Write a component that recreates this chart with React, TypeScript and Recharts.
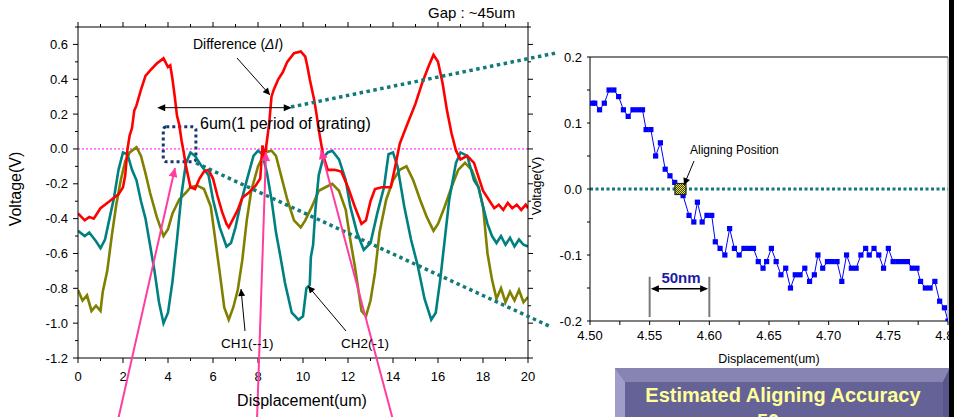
import React from 'react';
import {
  LineChart,
  Line,
  XAxis,
  YAxis,
  ReferenceLine,
  ReferenceArea,
  ReferenceDot,
} from 'recharts';

const FONT = '"Liberation Sans", Arial, Helvetica, sans-serif';

// ─────────────────────────────────────────────
// DATA – left panel (0..20 um scan)
// ─────────────────────────────────────────────

const diffX = [
  0, 0.3, 0.5, 0.7, 1.0, 1.3, 1.5, 1.8, 2.0, 2.1, 2.2, 2.3, 2.4, 2.5, 2.6, 2.8, 3.0, 3.2, 3.5, 3.8,
  4.0, 4.1, 4.2, 4.3, 4.4, 4.5, 4.6, 4.7, 4.8, 5.0, 5.2, 5.4, 5.6, 5.8, 6.0, 6.2, 6.4, 6.6, 6.7, 6.9,
  7.1, 7.3, 7.6, 7.9, 8.1, 8.2, 8.3, 8.4, 8.5, 8.6, 8.7, 8.9, 9.1, 9.3, 9.6, 9.9, 10.1, 10.2, 10.3, 10.5,
  10.6, 10.7, 10.9, 11.1, 11.4, 11.7, 12.0, 12.3, 12.6, 12.8, 13.0, 13.2, 13.5, 13.9, 14.1, 14.3, 14.6, 15.0, 15.3, 15.6,
  15.8, 16.0, 16.2, 16.4, 16.6, 16.8, 17.0, 17.3, 17.6, 17.8, 18.0, 18.3, 18.5, 18.7, 18.9, 19.1, 19.3, 19.5, 19.7, 19.9,
  20.0,
];
const diffV = [
  -0.37, -0.41, -0.39, -0.40, -0.34, -0.31, -0.29, -0.26, -0.22, -0.15, 0.0, 0.08, 0.12, 0.22, 0.25, 0.34, 0.42, 0.45, 0.49, 0.52,
  0.47, 0.48, 0.40, 0.30, 0.19, 0.14, 0.05, -0.02, -0.10, -0.22, -0.23, -0.17, -0.13, -0.12, -0.17, -0.27, -0.36, -0.43, -0.45, -0.40,
  -0.35, -0.28, -0.25, -0.21, -0.17, 0.02, -0.05, 0.05, 0.15, 0.30, 0.34, 0.40, 0.44, 0.50, 0.55, 0.56, 0.53, 0.47, 0.40, 0.28,
  0.20, 0.11, -0.04, -0.12, -0.12, -0.13, -0.22, -0.33, -0.43, -0.41, -0.30, -0.23, -0.22, -0.22, -0.10, 0.03, 0.13, 0.26, 0.38, 0.48,
  0.54, 0.50, 0.38, 0.22, 0.09, -0.01, -0.06, -0.04, -0.08, -0.16, -0.24, -0.30, -0.34, -0.32, -0.35, -0.31, -0.34, -0.32, -0.35, -0.32,
  -0.34,
];

const ch2X = [
  0, 0.3, 0.5, 0.8, 1.0, 1.2, 1.4, 1.6, 1.8, 2.0, 2.2, 2.4, 2.6, 2.8, 3.0, 3.2, 3.4, 3.6, 3.8, 4.0,
  4.2, 4.4, 4.6, 4.8, 5.0, 5.2, 5.5, 5.8, 6.0, 6.3, 6.6, 6.8, 7.0, 7.2, 7.5, 7.8, 8.0, 8.2, 8.4, 8.6,
  8.8, 9.0, 9.2, 9.5, 9.8, 10.0, 10.15, 10.3, 10.35, 10.45, 10.55, 10.7, 10.9, 11.1, 11.3, 11.6, 11.9, 12.1, 12.4, 12.7,
  13.0, 13.3, 13.6, 13.8, 14.0, 14.2, 14.5, 14.8, 15.1, 15.4, 15.7, 15.9, 16.1, 16.3, 16.5, 16.8, 17.0, 17.3, 17.6, 17.8,
  18.0, 18.2, 18.4, 18.6, 18.8, 19.0, 19.2, 19.4, 19.6, 19.8, 20.0,
];
const ch2V = [
  -0.47, -0.50, -0.48, -0.53, -0.57, -0.52, -0.40, -0.28, -0.12, -0.02, -0.03, -0.12, -0.18, -0.30, -0.40, -0.55, -0.70, -0.88, -1.00, -0.94,
  -0.76, -0.52, -0.26, -0.08, -0.02, -0.04, -0.10, -0.15, -0.29, -0.45, -0.56, -0.54, -0.45, -0.33, -0.18, -0.04, -0.01, -0.03, -0.14, -0.29,
  -0.48, -0.62, -0.77, -0.94, -0.98, -0.96, -0.80, -0.78, -0.62, -0.55, -0.35, -0.15, -0.05, -0.02, -0.01, -0.06, -0.18, -0.33, -0.48, -0.58,
  -0.54, -0.37, -0.22, -0.03, -0.02, -0.10, -0.33, -0.52, -0.67, -0.86, -0.98, -0.94, -0.75, -0.52, -0.29, -0.08, -0.02, -0.04, -0.18, -0.22,
  -0.33, -0.43, -0.50, -0.54, -0.50, -0.55, -0.51, -0.56, -0.52, -0.55, -0.56,
];

const ch1X = [
  0, 0.2, 0.4, 0.6, 0.8, 1.0, 1.1, 1.3, 1.5, 1.7, 1.9, 2.1, 2.3, 2.6, 2.8, 3.0, 3.2, 3.5, 3.8, 4.0,
  4.2, 4.5, 4.8, 5.0, 5.3, 5.6, 5.9, 6.1, 6.3, 6.5, 6.7, 6.9, 7.1, 7.3, 7.5, 7.7, 8.0, 8.3, 8.6, 8.8,
  9.0, 9.3, 9.6, 9.9, 10.1, 10.4, 10.7, 11.0, 11.3, 11.6, 11.9, 12.1, 12.3, 12.6, 12.8, 13.0, 13.2, 13.4, 13.7, 14.0,
  14.3, 14.6, 14.9, 15.2, 15.5, 15.8, 16.0, 16.3, 16.6, 16.9, 17.2, 17.5, 17.8, 18.0, 18.2, 18.4, 18.6, 18.8, 19.0, 19.2,
  19.4, 19.6, 19.8, 20.0,
];
const ch1V = [
  -0.81, -0.87, -0.84, -0.93, -0.90, -0.93, -0.82, -0.70, -0.50, -0.32, -0.18, -0.07, -0.02, 0.01, -0.04, -0.14, -0.25, -0.39, -0.50, -0.46,
  -0.37, -0.29, -0.25, -0.22, -0.21, -0.23, -0.33, -0.52, -0.71, -0.91, -0.98, -0.91, -0.81, -0.64, -0.41, -0.24, -0.10, -0.02, -0.01, -0.04,
  -0.14, -0.29, -0.41, -0.45, -0.41, -0.33, -0.24, -0.22, -0.20, -0.24, -0.35, -0.52, -0.67, -0.93, -0.96, -0.87, -0.71, -0.48, -0.29, -0.18,
  -0.12, -0.10, -0.18, -0.29, -0.39, -0.47, -0.43, -0.33, -0.22, -0.12, -0.08, -0.12, -0.22, -0.33, -0.60, -0.75, -0.86, -0.80, -0.88, -0.82,
  -0.87, -0.81, -0.88, -0.85,
];

const leftXTicks = [0, 1, 2, 3, 4, 5, 6, 7, 8, 9, 10, 11, 12, 13, 14, 15, 16, 17, 18, 19, 20];
const leftYTicks = [
  -1.2, -1.1, -1.0, -0.9, -0.8, -0.7, -0.6, -0.5, -0.4, -0.3, -0.2, -0.1, 0.0, 0.1, 0.2, 0.3, 0.4, 0.5, 0.6, 0.7,
];

// ─────────────────────────────────────────────
// DATA – right panel (zoom around aligning position)
// ─────────────────────────────────────────────

const zoomX = [
  4.502, 4.504, 4.508, 4.512, 4.516, 4.520, 4.524, 4.528, 4.532, 4.536, 4.540, 4.544, 4.547, 4.551, 4.555, 4.559, 4.563, 4.567, 4.571, 4.575,
  4.578, 4.583, 4.587, 4.590, 4.594, 4.598, 4.602, 4.605, 4.609, 4.613, 4.617, 4.621, 4.625, 4.629, 4.633, 4.637, 4.641, 4.645, 4.648, 4.652,
  4.656, 4.660, 4.664, 4.668, 4.672, 4.676, 4.680, 4.684, 4.688, 4.691, 4.695, 4.699, 4.703, 4.707, 4.711, 4.715, 4.719, 4.723, 4.727, 4.731,
  4.734, 4.738, 4.742, 4.746, 4.750, 4.754, 4.758, 4.762, 4.766, 4.770, 4.774, 4.777, 4.781, 4.785, 4.789, 4.793, 4.797, 4.800,
];
const zoomV = [
  0.13, 0.13, 0.12, 0.13, 0.15, 0.15, 0.14, 0.12, 0.11, 0.12, 0.12, 0.12, 0.09, 0.09, 0.05, 0.07, 0.03, 0.02, 0.01, 0.0,
  -0.01, -0.04, -0.05, -0.02, -0.05, -0.04, -0.04, -0.08, -0.09, -0.10, -0.06, -0.09, -0.10, -0.09, -0.09, -0.09, -0.11, -0.12, -0.11, -0.09,
  -0.11, -0.13, -0.12, -0.15, -0.13, -0.13, -0.12, -0.14, -0.13, -0.10, -0.12, -0.11, -0.11, -0.11, -0.14, -0.10, -0.12, -0.12, -0.10, -0.09,
  -0.10, -0.09, -0.10, -0.12, -0.09, -0.11, -0.11, -0.11, -0.11, -0.12, -0.12, -0.14, -0.15, -0.15, -0.14, -0.17, -0.18, -0.20,
];

const rightXTicks = [
  4.5, 4.525, 4.55, 4.575, 4.6, 4.625, 4.65, 4.675, 4.7, 4.725, 4.75, 4.775, 4.8,
];
const rightYTicks = [-0.2, -0.15, -0.1, -0.05, 0.0, 0.05, 0.1, 0.15, 0.2];

const alignX = 4.5758;
const alignV = 0.0;

const toPoints = (xs: number[], vs: number[]) => xs.map((x, i) => ({ x, v: vs[i] }));

const diffPts = toPoints(diffX, diffV);
const ch1Pts = toPoints(ch1X, ch1V);
const ch2Pts = toPoints(ch2X, ch2V);
const zoomPts = toPoints(zoomX, zoomV);

// ─────────────────────────────────────────────
// TICKS
// ─────────────────────────────────────────────

const isMajorLeftY = (v: number) => Math.abs(Math.round(v * 10)) % 2 === 0;
const isMajorLeftX = (v: number) => Math.round(v) % 2 === 0;
const isMajorRightX = (v: number) => Math.round(v * 1000) % 50 === 0;
const isMajorRightY = (v: number) => Math.abs(Math.round(v * 100)) % 10 === 0;

function LeftYTick(props: any) {
  const { x, y, payload } = props;
  const v = payload.value;
  const major = isMajorLeftY(v);
  return (
    <g>
      <line x1={x - (major ? 5 : 3)} y1={y} x2={x} y2={y} stroke="#000" />
      {major && v < 0.65 && (
        <text x={x - 10} y={y + 4.5} textAnchor="end" fontSize={13} fontFamily={FONT} fill="#000">
          {v.toFixed(1)}
        </text>
      )}
    </g>
  );
}

function LeftXTick(props: any) {
  const { x, y, payload } = props;
  const v = payload.value;
  const major = isMajorLeftX(v);
  return (
    <g>
      <line x1={x} y1={y} x2={x} y2={y + (major ? 5 : 3)} stroke="#000" />
      {major && (
        <text x={x} y={y + 23} textAnchor="middle" fontSize={13} fontFamily={FONT} fill="#000">
          {String(v)}
        </text>
      )}
    </g>
  );
}

function LeftTopTick(props: any) {
  const { x, y, payload } = props;
  const major = isMajorLeftX(payload.value);
  return <line x1={x} y1={y - (major ? 5 : 3)} x2={x} y2={y} stroke="#000" />;
}

function LeftRightTick(props: any) {
  const { x, y, payload } = props;
  const major = isMajorLeftY(payload.value);
  return <line x1={x} y1={y} x2={x + (major ? 5 : 3)} y2={y} stroke="#000" />;
}

function RightYTick(props: any) {
  const { x, y, payload } = props;
  const v = payload.value;
  const major = isMajorRightY(v);
  return (
    <g>
      <line x1={x - 3} y1={y} x2={x} y2={y} stroke="#000" />
      {major && (
        <text x={x - 8} y={y + 4.5} textAnchor="end" fontSize={13} fontFamily={FONT} fill="#000">
          {v.toFixed(1)}
        </text>
      )}
    </g>
  );
}

function RightXTick(props: any) {
  const { x, y, payload } = props;
  const v = payload.value;
  const major = isMajorRightX(v);
  return (
    <g>
      <line x1={x} y1={y} x2={x} y2={y + 4} stroke="#000" />
      {major && (
        <text x={x} y={y + 19} textAnchor="middle" fontSize={13} fontFamily={FONT} fill="#000">
          {v.toFixed(2)}
        </text>
      )}
    </g>
  );
}

// ─────────────────────────────────────────────
// SHAPES
// ─────────────────────────────────────────────

function SquareDot(props: any) {
  const { cx, cy, index } = props;
  if (cx == null || cy == null) return <g key={index} />;
  return <rect key={index} x={cx - 2.6} y={cy - 2.6} width={5.2} height={5.2} fill="#0000ff" />;
}

function AlignMarker(props: any) {
  const { cx, cy } = props;
  return (
    <g>
      <rect x={cx - 5.5} y={cy - 5.5} width={11} height={11} fill="url(#chk)" stroke="#222" strokeWidth={1.2} />
    </g>
  );
}

// horizontal line with an arrow head on each end
function DoubleArrow(props: any) {
  const { x1, y1, x2, y2 } = props;
  const left = Math.min(x1, x2);
  const right = Math.max(x1, x2);
  const y = (y1 + y2) / 2;
  const hl = 8;
  const hw = 3.5;
  return (
    <g>
      <line x1={left + 2} y1={y} x2={right - 2} y2={y} stroke="#000" strokeWidth={props.strokeWidth || 1} />
      <polygon points={`${left},${y} ${left + hl},${y - hw} ${left + hl},${y + hw}`} fill="#000" />
      <polygon points={`${right},${y} ${right - hl},${y - hw} ${right - hl},${y + hw}`} fill="#000" />
    </g>
  );
}

function DottedBox(props: any) {
  const { x, y, width, height } = props;
  return (
    <rect
      x={x}
      y={y}
      width={width}
      height={height}
      rx={3}
      fill="none"
      stroke="#17376f"
      strokeWidth={3}
      strokeDasharray="3 3"
    />
  );
}

// ─────────────────────────────────────────────
// APP
// ─────────────────────────────────────────────

export default function App() {
  const teal = '#137a78';
  const pink = '#ff3d9e';
  return (
    <div
      style={{
        position: 'absolute',
        left: 0,
        top: 0,
        width: 954,
        height: 417,
        overflow: 'hidden',
        background: '#fff',
        fontFamily: FONT,
      }}
    >
      {/* left: CH1, CH2 and their difference */}
      <div style={{ position: 'absolute', left: 0, top: 0 }}>
        <LineChart width={540} height={417} margin={{ top: 0, right: 0, bottom: 0, left: 0 }}>
          <XAxis
            type="number"
            dataKey="x"
            domain={[0, 20]}
            ticks={leftXTicks}
            interval={0}
            allowDataOverflow
            height={59}
            tickSize={0}
            tickMargin={0}
            tickLine={false}
            axisLine={{ stroke: '#000' }}
            tick={LeftXTick}
          />
          <XAxis
            xAxisId="top"
            orientation="top"
            type="number"
            dataKey="x"
            domain={[0, 20]}
            ticks={leftXTicks}
            interval={0}
            allowDataOverflow
            height={27}
            tickSize={0}
            tickMargin={0}
            tickLine={false}
            axisLine={{ stroke: '#000' }}
            tick={LeftTopTick}
          />
          <YAxis
            type="number"
            domain={[-1.2, 0.7]}
            ticks={leftYTicks}
            interval={0}
            allowDataOverflow
            width={78}
            tickSize={0}
            tickMargin={0}
            tickLine={false}
            axisLine={{ stroke: '#000' }}
            tick={LeftYTick}
          />
          <YAxis
            yAxisId="right"
            orientation="right"
            type="number"
            domain={[-1.2, 0.7]}
            ticks={leftYTicks}
            interval={0}
            allowDataOverflow
            width={12}
            tickSize={0}
            tickMargin={0}
            tickLine={false}
            axisLine={{ stroke: '#000' }}
            tick={LeftRightTick}
          />
          <ReferenceLine y={0} stroke="#ff00ff" strokeWidth={1} strokeDasharray="2 2" />
          <Line data={ch1Pts} dataKey="v" type="linear" stroke="#808000" strokeWidth={2.6} dot={false} isAnimationActive={false} />
          <Line data={ch2Pts} dataKey="v" type="linear" stroke="#008080" strokeWidth={2.6} dot={false} isAnimationActive={false} />
          <Line data={diffPts} dataKey="v" type="linear" stroke="#ff0000" strokeWidth={2.6} dot={false} isAnimationActive={false} />
          <ReferenceArea x1={3.79} x2={5.24} y1={-0.073} y2={0.127} shape={DottedBox} />
          <ReferenceLine
            segment={[
              { x: 3.52, y: 0.237 },
              { x: 9.5, y: 0.237 },
            ]}
            shape={DoubleArrow}
          />
        </LineChart>
      </div>

      {/* right: zoom on the aligning position */}
      <div style={{ position: 'absolute', left: 540, top: 0 }}>
        <LineChart width={414} height={417} margin={{ top: 0, right: 0, bottom: 0, left: 0 }}>
          <XAxis
            type="number"
            dataKey="x"
            domain={[4.5, 4.8]}
            ticks={rightXTicks}
            interval={0}
            allowDataOverflow
            height={96}
            tickSize={0}
            tickMargin={0}
            tickLine={false}
            axisLine={{ stroke: '#000' }}
            tick={RightXTick}
          />
          <XAxis
            xAxisId="top"
            orientation="top"
            type="number"
            dataKey="x"
            domain={[4.5, 4.8]}
            allowDataOverflow
            height={57}
            tick={false}
            tickLine={false}
            axisLine={{ stroke: '#000' }}
          />
          <YAxis
            type="number"
            domain={[-0.2, 0.2]}
            ticks={rightYTicks}
            interval={0}
            allowDataOverflow
            width={50}
            tickSize={0}
            tickMargin={0}
            tickLine={false}
            axisLine={{ stroke: '#000' }}
            tick={RightYTick}
          />
          <YAxis
            yAxisId="right"
            orientation="right"
            type="number"
            domain={[-0.2, 0.2]}
            allowDataOverflow
            width={6}
            tick={false}
            tickLine={false}
            axisLine={{ stroke: '#888' }}
          />
          <ReferenceLine y={0} stroke={teal} strokeWidth={3} strokeDasharray="3 2.5" />
          <Line
            data={zoomPts}
            dataKey="v"
            type="linear"
            stroke="#0000ff"
            strokeWidth={1}
            dot={SquareDot}
            isAnimationActive={false}
          />
          <ReferenceDot x={alignX} y={alignV} r={5.5} shape={AlignMarker} />
          <ReferenceLine
            segment={[
              { x: 4.55, y: -0.133 },
              { x: 4.55, y: -0.194 },
            ]}
            stroke="#7a7a7a"
            strokeWidth={2}
          />
          <ReferenceLine
            segment={[
              { x: 4.6, y: -0.133 },
              { x: 4.6, y: -0.194 },
            ]}
            stroke="#7a7a7a"
            strokeWidth={2}
          />
          <ReferenceLine
            segment={[
              { x: 4.551, y: -0.151 },
              { x: 4.599, y: -0.151 },
            ]}
            strokeWidth={1.5}
            shape={DoubleArrow}
          />
        </LineChart>
      </div>

      {/* annotations */}
      <svg
        width={954}
        height={417}
        style={{ position: 'absolute', left: 0, top: 0, pointerEvents: 'none' }}
        fontFamily={FONT}
      >
        <defs>
          <marker id="ahK" viewBox="0 0 10 10" refX="10" refY="5" markerWidth="8" markerHeight="7" markerUnits="userSpaceOnUse" orient="auto">
            <path d="M0,0 L10,5 L0,10 z" fill="#000" />
          </marker>
          <marker id="ahP" viewBox="0 0 10 10" refX="10" refY="5" markerWidth="11" markerHeight="9" markerUnits="userSpaceOnUse" orient="auto">
            <path d="M0,0 L10,5 L0,10 z" fill={pink} />
          </marker>
          <pattern id="chk" width="2" height="2" patternUnits="userSpaceOnUse">
            <rect width="2" height="2" fill="#3a3a10" />
            <rect width="1" height="1" fill="#e8e840" />
            <rect x="1" y="1" width="1" height="1" fill="#e8e840" />
          </pattern>
        </defs>

        {/* zoom guide lines */}
        <line x1={291} y1={107} x2={556} y2={53} stroke={teal} strokeWidth={3.5} strokeDasharray="3.5 3.5" />
        <line x1={196} y1={163} x2={549} y2={326} stroke={teal} strokeWidth={3.5} strokeDasharray="3.5 3.5" />

        {/* pink pointers to the zero crossings */}
        <line x1={118} y1={420} x2={175} y2={168} stroke={pink} strokeWidth={2} markerEnd="url(#ahP)" />
        <line x1={257} y1={420} x2={266} y2={152} stroke={pink} strokeWidth={2} markerEnd="url(#ahP)" />
        <line x1={393} y1={420} x2={321} y2={150} stroke={pink} strokeWidth={2} markerEnd="url(#ahP)" />

        <text x={428} y={18} fontSize={15} fill="#000">Gap : ~45um</text>

        <text x={193} y={49} fontSize={14} fill="#000">
          Difference (<tspan fontStyle="italic">ΔI</tspan>)
        </text>
        <line x1={237} y1={58} x2={270} y2={95} stroke="#000" strokeWidth={1} markerEnd="url(#ahK)" />

        <text x={200} y={129} fontSize={16} fill="#000">6um(1 period of grating)</text>

        <text x={221} y={348} fontSize={13.5} fill="#000">CH1(--1)</text>
        <line x1={245} y1={331} x2={241} y2={289} stroke="#000" strokeWidth={1} markerEnd="url(#ahK)" />
        <text x={341} y={348} fontSize={13.5} fill="#000">CH2(-1)</text>
        <line x1={346} y1={331} x2={308} y2={286} stroke="#000" strokeWidth={1} markerEnd="url(#ahK)" />

        {/* axis titles */}
        <text x={302} y={406} fontSize={16} textAnchor="middle" fill="#000">Displacement(um)</text>
        <text x={0} y={0} fontSize={16} textAnchor="middle" fill="#000" transform="translate(21,189) rotate(-90)">
          Voltage(V)
        </text>
        <text x={769} y={363} fontSize={12.5} textAnchor="middle" fill="#000">Displacement(um)</text>
        <text x={0} y={0} fontSize={12.5} textAnchor="middle" fill="#000" transform="translate(541,186) rotate(-90)">
          Voltage(V)
        </text>

        <text x={690} y={154} fontSize={12} fill="#000">Aligning Position</text>
        <line x1={694} y1={161} x2={684} y2={185} stroke="#000" strokeWidth={1} markerEnd="url(#ahK)" />

        <text x={681} y={283} fontSize={15} fontWeight="bold" textAnchor="middle" fill="#1c1ca6">50nm</text>

        {/* result banner */}
        <rect x={615} y={368} width={335} height={49} fill="#646296" />
        <polygon points="615,368 950,368 943,382 625,382" fill="#8784b4" />
        <polygon points="615,368 625,382 625,417 615,417" fill="#a09ec8" />
        <polygon points="950,368 943,382 943,417 950,417" fill="#58568c" />
        <text x={783} y={402} fontSize={20} fontWeight="bold" textAnchor="middle" fill="#ffff99">
          Estimated Aligning Accuracy
        </text>
        <text x={783} y={428} fontSize={20} fontWeight="bold" textAnchor="middle" fill="#ffff99">
          50nm
        </text>

        <rect x={949} y={0} width={5} height={417} fill="#000" />
      </svg>
    </div>
  );
}
